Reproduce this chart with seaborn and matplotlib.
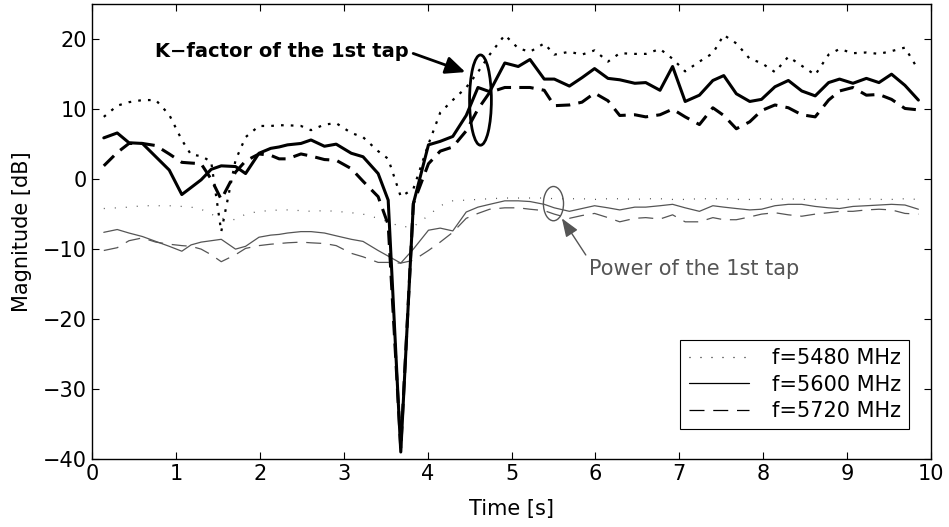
import seaborn as sns
import matplotlib.pyplot as plt
from matplotlib.patches import Ellipse
from matplotlib.lines import Line2D

# sample times [s]
times = [0.14, 0.30, 0.44, 0.60, 0.76, 0.92, 1.07, 1.18, 1.30, 1.42,
         1.54, 1.71, 1.83, 1.99, 2.13, 2.23, 2.33, 2.49, 2.61, 2.77,
         2.91, 3.09, 3.23, 3.41, 3.53, 3.68, 3.83, 4.01, 4.15, 4.30,
         4.46, 4.60, 4.74, 4.92, 5.08, 5.22, 5.39, 5.51, 5.69, 5.84,
         5.99, 6.15, 6.29, 6.47, 6.60, 6.77, 6.92, 7.07, 7.24, 7.40,
         7.53, 7.68, 7.84, 7.98, 8.14, 8.30, 8.46, 8.62, 8.78, 8.91,
         9.07, 9.23, 9.38, 9.53, 9.69, 9.85]

# K-factor of the 1st tap [dB]
k_5480 = [8.9, 10.5, 11.0, 11.3, 11.3, 9.2, 5.6, 3.5, 3.3, 2.5,
          -7.5, 2.7, 6.0, 7.6, 7.6, 7.7, 7.7, 7.6, 7.0, 7.8,
          8.0, 6.6, 6.0, 4.0, 2.9, -2.5, -1.4, 5.0, 9.5, 11.3,
          13.1, 15.3, 17.8, 20.6, 18.7, 18.2, 19.4, 17.8, 18.2, 17.8,
          18.4, 16.8, 18.0, 17.9, 17.9, 18.6, 17.2, 15.4, 16.8, 18.0,
          20.6, 19.4, 17.2, 16.6, 15.3, 17.5, 16.2, 14.9, 17.8, 18.6,
          18.0, 18.1, 17.9, 18.3, 18.8, 15.6]
k_5600 = [5.9, 6.6, 5.2, 5.1, 3.2, 1.3, -2.2, -1.2, -0.1, 1.4,
          1.9, 1.8, 0.8, 3.7, 4.4, 4.6, 4.9, 5.1, 5.6, 4.7,
          5.0, 3.7, 3.2, 0.8, -3.0, -39.0, -3.5, 4.9, 5.4, 6.1,
          9.1, 13.1, 12.5, 16.6, 16.1, 17.1, 14.3, 14.3, 13.3, 14.5,
          15.8, 14.4, 14.2, 13.7, 13.8, 12.7, 16.1, 11.1, 12.0, 14.1,
          14.8, 12.2, 11.1, 11.4, 13.2, 14.1, 12.6, 11.9, 13.8, 14.3,
          13.7, 14.4, 13.8, 15.0, 13.4, 11.3]
k_5720 = [1.9, 3.8, 5.1, 5.1, 4.8, 3.6, 2.4, 2.3, 2.2, 0.0,
          -2.9, 1.0, 2.6, 3.6, 3.4, 2.9, 2.9, 3.6, 3.3, 2.8,
          2.7, 1.5, -0.3, -2.5, -6.5, -38.5, -3.5, 2.2, 4.0, 4.6,
          6.9, 10.0, 12.4, 13.1, 13.1, 13.1, 12.7, 10.5, 10.6, 11.0,
          12.3, 11.2, 9.1, 9.2, 8.9, 9.2, 10.0, 8.9, 7.8, 10.2,
          9.1, 7.2, 8.2, 9.8, 10.6, 10.2, 9.2, 8.9, 11.3, 12.6,
          13.1, 12.0, 12.1, 11.4, 10.1, 9.9]

# power of the 1st tap [dB]
p_5480 = [-4.2, -4.1, -4.0, -3.8, -3.8, -3.8, -3.9, -4.0, -4.3, -5.0,
          -5.6, -5.8, -5.0, -4.6, -4.5, -4.4, -4.4, -4.5, -4.6, -4.5,
          -4.6, -4.8, -5.0, -5.6, -6.1, -6.8, -6.8, -5.2, -3.8, -3.1,
          -3.0, -2.9, -2.8, -2.7, -2.7, -2.7, -2.7, -2.8, -2.8, -2.8,
          -2.9, -2.8, -2.8, -2.9, -2.8, -2.8, -2.9, -2.9, -2.8, -2.8,
          -2.8, -2.9, -2.9, -2.8, -2.9, -2.8, -2.9, -2.9, -2.8, -2.9,
          -2.9, -2.8, -2.9, -2.9, -2.8, -2.9]
p_5600 = [-7.6, -7.2, -7.7, -8.2, -8.9, -9.6, -10.3, -9.4, -9.0, -8.8,
          -8.6, -10.0, -9.6, -8.3, -8.0, -7.9, -7.7, -7.5, -7.5, -7.7,
          -8.1, -8.6, -8.9, -10.2, -11.0, -12.0, -10.0, -7.3, -7.0, -7.4,
          -4.7, -4.0, -3.6, -3.1, -3.1, -3.2, -3.6, -4.1, -4.6, -4.2,
          -3.8, -4.1, -4.4, -4.0, -4.0, -3.8, -3.6, -4.1, -4.6, -3.8,
          -4.0, -4.2, -4.4, -4.3, -3.8, -3.6, -3.6, -3.9, -4.1, -4.2,
          -3.9, -3.8, -3.7, -3.6, -3.7, -4.3]
p_5720 = [-10.2, -9.8, -8.8, -8.4, -9.0, -9.3, -9.5, -9.6, -10.0, -10.8,
          -11.8, -10.8, -9.9, -9.5, -9.3, -9.2, -9.1, -9.0, -9.1, -9.2,
          -9.5, -10.6, -11.1, -11.9, -11.9, -12.0, -11.6, -10.2, -9.0, -7.6,
          -5.6, -4.9, -4.3, -4.1, -4.1, -4.3, -4.5, -5.0, -5.6, -5.2,
          -4.9, -5.5, -6.1, -5.6, -5.5, -5.7, -5.1, -6.1, -6.1, -5.5,
          -5.8, -5.8, -5.4, -5.0, -4.8, -5.1, -5.3, -5.0, -4.8, -4.6,
          -4.6, -4.4, -4.3, -4.4, -4.9, -5.0]

labels = ['f=5480 MHz', 'f=5600 MHz', 'f=5720 MHz']

sns.set_style("ticks")
plt.rcParams['font.family'] = ['DejaVu Sans']
plt.rcParams['text.color'] = 'black'
plt.rcParams['axes.labelcolor'] = 'black'
fs = 15

fig = plt.figure(figsize=(9.49, 5.27), dpi=100)
ax = fig.add_axes([0.097, 0.129, 0.884, 0.863])

gray = '#555555'
dot_thin = (0, (0.8, 8))
dash_thin = (0, (12, 7))

# thin grey power curves
sns.lineplot(x=times, y=p_5480, ax=ax, color=gray, lw=0.9, linestyle=dot_thin, sort=False)
sns.lineplot(x=times, y=p_5600, ax=ax, color=gray, lw=0.9, sort=False)
sns.lineplot(x=times, y=p_5720, ax=ax, color=gray, lw=0.9, linestyle=dash_thin, sort=False)

# thick black K-factor curves
sns.lineplot(x=times, y=k_5480, ax=ax, color='black', lw=1.6, linestyle=(0, (1.2, 3.2)), sort=False)
sns.lineplot(x=times, y=k_5720, ax=ax, color='black', lw=2.2, linestyle=(0, (4.7, 2.7)), sort=False)
sns.lineplot(x=times, y=k_5600, ax=ax, color='black', lw=2.2, sort=False)

ax.set_xlim(0, 10)
ax.set_ylim(-40, 25)
ax.set_xticks(range(0, 11))
ax.set_yticks([-40, -30, -20, -10, 0, 10, 20])
ax.tick_params(direction='in', top=True, right=True, length=5, width=0.8,
               labelsize=fs, colors='black')
for s in ax.spines.values():
    s.set_linewidth(1.0)
    s.set_color('black')
ax.set_xlabel('Time [s]', fontsize=fs, labelpad=11)
ax.set_ylabel('Magnitude [dB]', fontsize=fs, labelpad=8)

# annotations
ax.add_patch(Ellipse((4.63, 11.3), 0.26, 12.9, fill=False, ec='black', lw=2))
ax.annotate('K\u2212factor of the 1st tap', xy=(4.45, 15.3), xytext=(0.75, 18.2),
            fontsize=14, fontweight='bold', va='center', ha='left',
            arrowprops=dict(arrowstyle='-|>,head_length=0.85,head_width=0.38',
                            color='black', lw=2, relpos=(1.0, 0.5),
                            shrinkA=1, shrinkB=0))

ax.add_patch(Ellipse((5.50, -3.5), 0.24, 4.9, fill=False, ec=gray, lw=1))
ax.annotate('Power of the 1st tap', xy=(5.60, -5.6), xytext=(5.92, -12.9),
            fontsize=fs, color=gray, va='center', ha='left',
            arrowprops=dict(arrowstyle='-|>,head_length=0.75,head_width=0.28',
                            color=gray, lw=1, relpos=(0.0, 1.0),
                            shrinkA=1, shrinkB=0))

handles = [Line2D([], [], color='black', lw=0.9, linestyle=dot_thin),
           Line2D([], [], color='black', lw=0.9),
           Line2D([], [], color='black', lw=0.9, linestyle=dash_thin)]
leg = ax.legend(handles, labels, loc='lower right', fontsize=fs,
                bbox_to_anchor=(909.3 / 949, 1 - 429.3 / 527),
                bbox_transform=fig.transFigure, borderaxespad=0,
                frameon=True, fancybox=False, framealpha=1,
                edgecolor='black', handlelength=2.9, handletextpad=1.1,
                labelspacing=0.3, borderpad=0.4)
leg.get_frame().set_linewidth(0.8)
for t in leg.get_texts():
    t.set_color('black')

fig.savefig('out.png', dpi=100)
